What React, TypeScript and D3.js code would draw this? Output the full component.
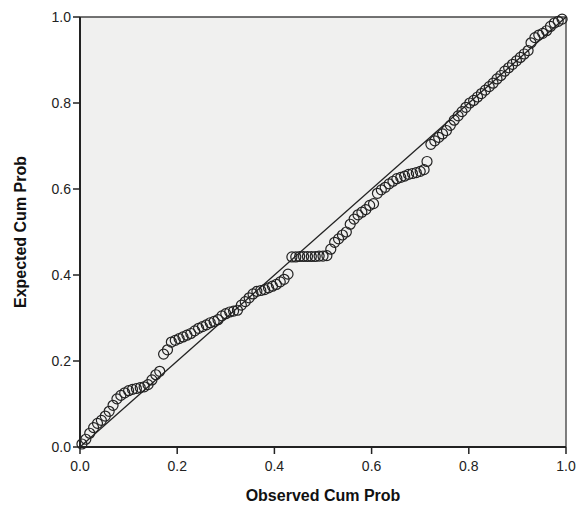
import React from 'react';
import * as d3 from 'd3';

// observed cumulative probability (x) and expected cumulative probability (y)
const observed = [
  0.004, 0.012, 0.020, 0.028, 0.036, 0.044, 0.052, 0.060, 0.068, 0.076,
  0.084, 0.092, 0.100, 0.108, 0.116, 0.124, 0.132, 0.140, 0.148, 0.156,
  0.164, 0.172, 0.180, 0.188, 0.196, 0.204, 0.212, 0.220, 0.228, 0.236,
  0.244, 0.252, 0.260, 0.268, 0.276, 0.284, 0.292, 0.300, 0.308, 0.316,
  0.324, 0.332, 0.340, 0.348, 0.356, 0.364, 0.372, 0.380, 0.388, 0.396,
  0.404, 0.412, 0.420, 0.428, 0.436, 0.444, 0.452, 0.460, 0.468, 0.476,
  0.484, 0.492, 0.500, 0.508, 0.516, 0.524, 0.532, 0.540, 0.548, 0.556,
  0.564, 0.572, 0.580, 0.588, 0.596, 0.604, 0.612, 0.620, 0.628, 0.636,
  0.644, 0.652, 0.660, 0.668, 0.676, 0.684, 0.692, 0.700, 0.708, 0.714,
  0.722, 0.730, 0.738, 0.746, 0.754, 0.762, 0.770, 0.778, 0.786, 0.794,
  0.802, 0.810, 0.818, 0.826, 0.834, 0.842, 0.850, 0.858, 0.866, 0.874,
  0.882, 0.890, 0.898, 0.906, 0.914, 0.922, 0.928, 0.936, 0.944, 0.952,
  0.960, 0.968, 0.976, 0.984, 0.992,
];
const expected = [
  0.007, 0.018, 0.032, 0.045, 0.055, 0.062, 0.072, 0.083, 0.097, 0.112,
  0.120, 0.126, 0.131, 0.134, 0.136, 0.138, 0.140, 0.145, 0.156, 0.168,
  0.176, 0.216, 0.226, 0.244, 0.248, 0.252, 0.256, 0.260, 0.264, 0.270,
  0.276, 0.280, 0.284, 0.289, 0.292, 0.296, 0.305, 0.310, 0.314, 0.316,
  0.318, 0.330, 0.338, 0.347, 0.356, 0.362, 0.364, 0.366, 0.370, 0.374,
  0.378, 0.384, 0.390, 0.402, 0.442, 0.442, 0.443, 0.443, 0.443, 0.443,
  0.443, 0.444, 0.444, 0.445, 0.460, 0.476, 0.484, 0.493, 0.500, 0.518,
  0.530, 0.540, 0.546, 0.552, 0.562, 0.566, 0.590, 0.598, 0.604, 0.612,
  0.618, 0.624, 0.627, 0.630, 0.634, 0.636, 0.638, 0.641, 0.645, 0.664,
  0.704, 0.712, 0.720, 0.728, 0.736, 0.748, 0.760, 0.770, 0.780, 0.790,
  0.800, 0.806, 0.814, 0.822, 0.830, 0.838, 0.846, 0.856, 0.864, 0.874,
  0.882, 0.890, 0.898, 0.906, 0.914, 0.922, 0.940, 0.952, 0.958, 0.962,
  0.968, 0.978, 0.986, 0.990, 0.995,
];
const ticks = [0, 0.2, 0.4, 0.6, 0.8, 1.0];

const W = 580;
const H = 515;
const m = { left: 80, top: 17, right: 14, bottom: 68 };
const font = 'Arial, "Liberation Sans", sans-serif';

const App = () => {
  const x = d3.scaleLinear().domain([0, 1]).range([m.left, W - m.right]);
  const y = d3.scaleLinear().domain([0, 1]).range([H - m.bottom, m.top]);
  const fmt = d3.format('.1f');
  const points = observed.map((o, i) => [o, expected[i]]);
  const diag = d3.line<number[]>().x(d => x(d[0])).y(d => y(d[1]));

  return (
    <svg width={W} height={H} style={{ position: 'absolute', left: 0, top: 0, background: '#fff' }}>
      <rect x={x(0)} y={y(1)} width={x(1) - x(0)} height={y(0) - y(1)} fill="#f0f0ef" />
      {/* frame */}
      <line x1={x(0)} x2={x(1)} y1={y(1)} y2={y(1)} stroke="#444" strokeWidth={1.5} />
      <line x1={x(1)} x2={x(1)} y1={y(1)} y2={y(0)} stroke="#555" strokeWidth={1.5} />
      <path d={diag([[0, 0], [1, 1]]) || ''} stroke="#222" strokeWidth={1.3} fill="none" />
      <g>
        {points.map((p, i) => (
          <circle key={i} cx={x(p[0])} cy={y(p[1])} r={5} fill="none" stroke="#222" strokeWidth={1.2} />
        ))}
      </g>
      {/* axes */}
      <line x1={x(0)} x2={x(0)} y1={y(1)} y2={y(0)} stroke="#222" strokeWidth={2} />
      <line x1={x(0)} x2={x(1)} y1={y(0)} y2={y(0)} stroke="#222" strokeWidth={2} />
      {ticks.map(t => (
        <g key={'y' + t}>
          <line x1={x(0) - 7} x2={x(0)} y1={y(t)} y2={y(t)} stroke="#222" strokeWidth={1.5} />
          <text x={x(0) - 9} y={y(t)} dy="0.35em" textAnchor="end" fontFamily={font} fontSize={14} fill="#222">
            {fmt(t)}
          </text>
        </g>
      ))}
      {ticks.map(t => (
        <g key={'x' + t}>
          <line x1={x(t)} x2={x(t)} y1={y(0)} y2={y(0) + 7} stroke="#222" strokeWidth={1.5} />
          <text x={x(t)} y={y(0) + 24} textAnchor="middle" fontFamily={font} fontSize={14} fill="#222">
            {fmt(t)}
          </text>
        </g>
      ))}
      <text x={(x(0) + x(1)) / 2} y={501} textAnchor="middle" fontFamily={font} fontSize={16} fontWeight="bold" fill="#111">
        Observed Cum Prob
      </text>
      <text transform={`translate(26,${(y(0) + y(1)) / 2}) rotate(-90)`} textAnchor="middle" fontFamily={font} fontSize={16} fontWeight="bold" fill="#111">
        Expected Cum Prob
      </text>
    </svg>
  );
};

export default App;
